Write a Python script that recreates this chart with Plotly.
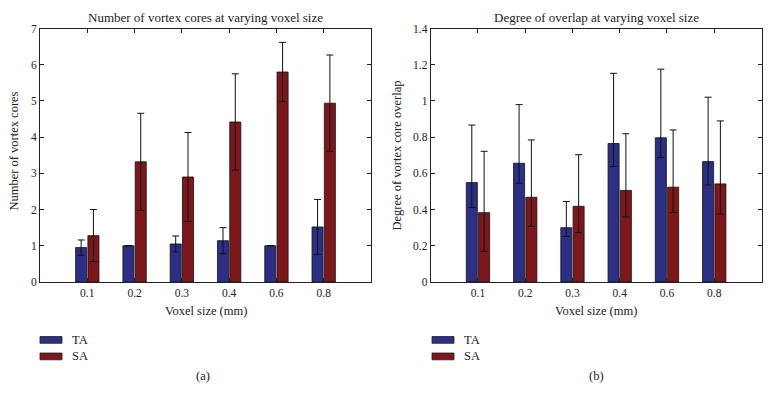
import plotly.graph_objects as go

# ---------------- data ----------------
voxel_sizes = ["0.1", "0.2", "0.3", "0.4", "0.6", "0.8"]

ta_cores = [0.95, 1.00, 1.05, 1.14, 1.00, 1.52]
ta_cores_err = [0.21, None, 0.22, 0.36, None, 0.76]
sa_cores = [1.28, 3.32, 2.90, 4.42, 5.80, 4.94]
sa_cores_err = [0.72, 1.34, 1.23, 1.33, 0.82, 1.33]

ta_overlap = [0.549, 0.656, 0.300, 0.765, 0.797, 0.665]
ta_overlap_up = [0.318, 0.324, 0.145, 0.388, 0.379, 0.356]
ta_overlap_down = [0.138, 0.111, 0.048, 0.127, 0.110, 0.129]
sa_overlap = [0.383, 0.468, 0.418, 0.506, 0.524, 0.542]
sa_overlap_up = [0.339, 0.317, 0.285, 0.313, 0.316, 0.348]
sa_overlap_down = [0.213, 0.160, 0.145, 0.147, 0.140, 0.167]

series_names = ["TA", "SA"]
colors = ["#2b2f85", "#7e1719"]

W, H = 770, 409
FONT = "Liberation Serif, Times New Roman, serif"


def px(x):
    return x / W


def py(y):
    return 1 - y / H


xpos = list(range(1, len(voxel_sizes) + 1))

fig = go.Figure()

err_style = dict(color="#111111", thickness=1, width=3.5)
bar_line = dict(color="#111111", width=0.8)

fig.add_trace(go.Bar(x=xpos, y=ta_cores, name="TA", marker=dict(color=colors[0], line=bar_line),
                     error_y=dict(type="data", array=ta_cores_err, visible=True, **err_style),
                     xaxis="x", yaxis="y", showlegend=False))
fig.add_trace(go.Bar(x=xpos, y=sa_cores, name="SA", marker=dict(color=colors[1], line=bar_line),
                     error_y=dict(type="data", array=sa_cores_err, visible=True, **err_style),
                     xaxis="x", yaxis="y", showlegend=False))
fig.add_trace(go.Bar(x=xpos, y=ta_overlap, name="TA", marker=dict(color=colors[0], line=bar_line),
                     error_y=dict(type="data", symmetric=False, array=ta_overlap_up, arrayminus=ta_overlap_down,
                                  visible=True, **err_style),
                     xaxis="x2", yaxis="y2", showlegend=False))
fig.add_trace(go.Bar(x=xpos, y=sa_overlap, name="SA", marker=dict(color=colors[1], line=bar_line),
                     error_y=dict(type="data", symmetric=False, array=sa_overlap_up, arrayminus=sa_overlap_down,
                                  visible=True, **err_style),
                     xaxis="x2", yaxis="y2", showlegend=False))

ydom = [py(284.3), py(23.3)]
axis_common = dict(showline=True, linecolor="#222222", linewidth=1, mirror="ticks", ticks="inside",
                   ticklen=4, tickcolor="#222222", showgrid=False, zeroline=False,
                   tickfont=dict(family=FONT, size=11.5, color="#222222"))

fig.update_layout(
    width=W, height=H, margin=dict(l=0, r=0, t=0, b=0),
    paper_bgcolor="white", plot_bgcolor="white",
    barmode="group", bargap=0.48, bargroupgap=0.1,
    font=dict(family=FONT, size=12, color="#222222"),
    xaxis=dict(domain=[px(40), px(371)], range=[0, 7], tickvals=xpos, ticktext=voxel_sizes, anchor="y", **axis_common),
    yaxis=dict(domain=ydom, range=[0, 7], dtick=1, anchor="x", **axis_common),
    xaxis2=dict(domain=[px(430.7), px(761.5)], range=[0, 7], tickvals=xpos, ticktext=voxel_sizes, anchor="y2", **axis_common),
    yaxis2=dict(domain=ydom, range=[0, 1.4], dtick=0.2, anchor="x2", **axis_common),
)

annots = []
tf = dict(family=FONT, size=12.5, color="#222222")
ttf = dict(family=FONT, size=13, color="#222222")


def note(x, y, text, font, xanchor="center", angle=0):
    annots.append(dict(x=px(x), y=py(y), xref="paper", yref="paper", text=text, showarrow=False,
                       font=font, xanchor=xanchor, yanchor="middle", textangle=angle))


# titles
note(205.5, 12, "Number of vortex cores at varying voxel size", ttf)
note(596, 12, "Degree of overlap at varying voxel size", ttf)
# y titles
note(14, 150, "Number of vortex cores", tf, angle=-90)
note(397, 154, "Degree of vortex core overlap", tf, angle=-90)
# x titles
note(205.5, 314, "Voxel size (mm)", tf)
note(596, 314, "Voxel size (mm)", tf)
# panel labels
note(203, 381, "(a)", tf)
note(596, 381, "(b)", tf)

# legends (manual)
shapes = []
for lx in (40, 432):
    for i, (nm, col) in enumerate(zip(series_names, colors)):
        cy = 344 + i * 17
        shapes.append(dict(type="rect", xref="paper", yref="paper", x0=px(lx), x1=px(lx + 22),
                           y0=py(cy + 3.5), y1=py(cy - 3.5), fillcolor=col, line=dict(color="#222222", width=0.8)))
        note(lx + 30, cy, nm, tf, xanchor="left")

fig.update_layout(annotations=annots, shapes=shapes)
fig.write_html("out.html", config={"displayModeBar": False},
               post_script="document.body.style.margin='0px';document.body.style.overflow='hidden';")
